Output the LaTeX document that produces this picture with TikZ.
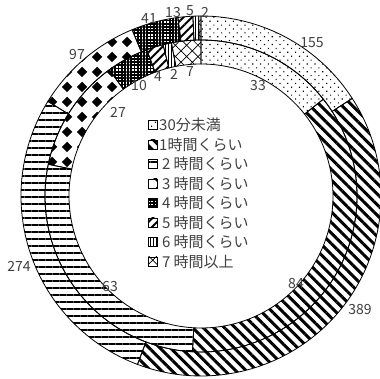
\documentclass[tikz,border=0pt]{standalone}
\usepackage{fontspec}
\setmainfont{Noto Sans CJK JP}
\usetikzlibrary{patterns,patterns.meta}
\tikzdeclarepattern{
  name=diamonds,
  type=uncolored,
  bottom left={(0pt,0pt)},
  top right={(15pt,15pt)},
  tile size={(15pt,15pt)},
  code={\tikzset{x=1pt,y=1pt}\fill (7.5,2) -- (13,7.5) -- (7.5,13) -- (2,7.5) -- cycle;}
}
\def\ringpart[#1](#2:#3)(#4:#5:#6){\draw[#1] ({90-360/#6*#4}:#3) arc[start angle={90-360/#6*#4}, end angle={90-360/#6*#5}, radius=#3] -- ({90-360/#6*#5}:#2) arc[start angle={90-360/#6*#5}, end angle={90-360/#6*#4}, radius=#2] -- cycle;}
\tikzset{
  seg/.style={draw=black, line width=0.8pt},
  pdots/.style={pattern={Dots[angle=45,distance=5.5pt,radius=0.8pt]}},
  pthick/.style={pattern={Lines[angle=-45,distance=7.5pt,line width=3pt]}},
  phoriz/.style={pattern={Lines[angle=0,distance=7pt,line width=1.4pt]}},
  pdiamond/.style={pattern=diamonds},
  pgrid/.style={pattern={Hatch[angle=0,distance=3.2pt,line width=1.8pt]}},
  pslant/.style={pattern={Lines[angle=45,distance=6pt,line width=2pt]}},
  pvert/.style={pattern={Lines[angle=90,distance=3pt,line width=0.8pt]}},
  pcross/.style={pattern={Hatch[angle=45,distance=8pt,line width=0.7pt]}},
  lbl/.style={font=\fontsize{14}{16}\selectfont, text=black!75, inner sep=0pt},
  keybox/.style={draw=black, line width=0.6pt, minimum size=9pt, inner sep=0pt},
  keytext/.style={font=\fontsize{15}{17}\selectfont, text=black!75, inner sep=0pt, anchor=west}
}
\begin{document}
\begin{tikzpicture}[x=1pt,y=1pt]
			%%%%% FRAME %%%%%
			\useasboundingbox (0,0) rectangle (380,379);
			
			\begin{scope}[shift={(201,183)}]
			%%%%% OUTER RING %%%%%
			\ringpart[seg,pdots](156:180)(0:155:976)
			\ringpart[seg,pthick](156:180)(155:544:976)
			\ringpart[seg,phoriz](156:180)(544:818:976)
			\ringpart[seg,pdiamond](156:180)(818:915:976)
			\ringpart[seg,pgrid](156:180)(915:956:976)
			\ringpart[seg,pslant](156:180)(956:969:976)
			\ringpart[seg,pvert](156:180)(969:974:976)
			\ringpart[seg,pcross](156:180)(974:976:976)
			
			%%%%% INNER RING %%%%%
			\ringpart[seg,pdots](132:156)(0:33:230)
			\ringpart[seg,pthick](132:156)(33:117:230)
			\ringpart[seg,phoriz](132:156)(117:180:230)
			\ringpart[seg,pdiamond](132:156)(180:207:230)
			\ringpart[seg,pgrid](132:156)(207:217:230)
			\ringpart[seg,pslant](132:156)(217:221:230)
			\ringpart[seg,pvert](132:156)(221:223:230)
			\ringpart[seg,pcross](132:156)(223:230:230)
			\end{scope}
			
			%%%%% VALUES %%%%%
			\node[lbl] (v155) at (312,336) {155};
			\node[lbl] (v389) at (360,69) {389};
			\node[lbl] (v274) at (19,113) {274};
			\node[lbl] (v97) at (77,324) {97};
			\node[lbl] (v41) at (149,360) {41};
			\node[lbl] (v13) at (173,366) {13};
			\node[lbl] (v5) at (190,368) {5};
			\node[lbl] (v2o) at (205,367) {2};
			
			\node[lbl] (v33) at (258,293) {33};
			\node[lbl] (v84) at (296,95) {84};
			\node[lbl] (v63) at (110,92) {63};
			\node[lbl] (v27) at (118,267) {27};
			\node[lbl] (v10) at (139,293) {10};
			\node[lbl] (v4) at (158,302) {4};
			\node[lbl] (v2i) at (174,305) {2};
			\node[lbl] (v7) at (190,307) {7};
			
			%%%%% KEY %%%%%
			\node[keybox,pdots] (k0) at (152.5,254) {};
			\node[keytext] (t0) at (159,254) {30分未満};
			\node[keybox,pthick] (k1) at (152.5,234.5) {};
			\node[keytext] (t1) at (159,234.5) {1時間くらい};
			\node[keybox,phoriz] (k2) at (152.5,215) {};
			\node[keytext] (t2) at (159,215) {\kern3pt 2\kern3pt 時間くらい};
			\node[keybox,pdiamond] (k3) at (152.5,195.5) {};
			\node[keytext] (t3) at (159,195.5) {\kern3pt 3\kern3pt 時間くらい};
			\node[keybox,pgrid] (k4) at (152.5,176) {};
			\node[keytext] (t4) at (159,176) {\kern3pt 4\kern3pt 時間くらい};
			\node[keybox,pslant] (k5) at (152.5,156.5) {};
			\node[keytext] (t5) at (159,156.5) {\kern3pt 5\kern3pt 時間くらい};
			\node[keybox,pvert] (k6) at (152.5,137) {};
			\node[keytext] (t6) at (159,137) {\kern3pt 6\kern3pt 時間くらい};
			\node[keybox,pcross] (k7) at (152.5,117.5) {};
			\node[keytext] (t7) at (159,117.5) {\kern3pt 7\kern3pt 時間以上};
		\end{tikzpicture}
\end{document}
